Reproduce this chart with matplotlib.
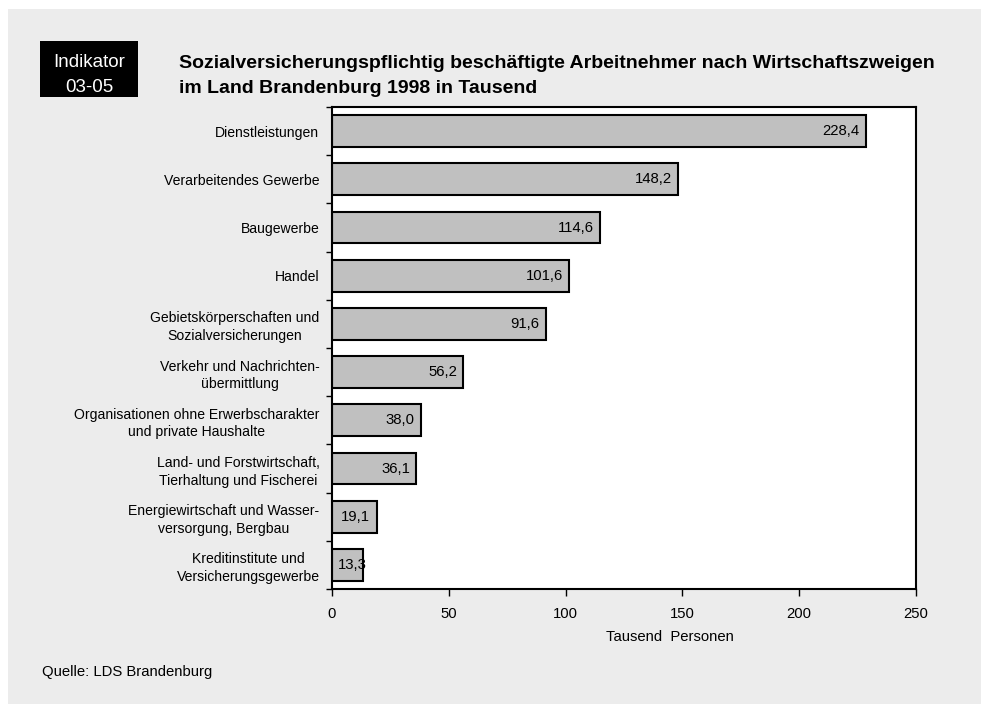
import matplotlib
matplotlib.use("Agg")
import matplotlib.pyplot as plt
from matplotlib.patches import Rectangle

plt.rcParams['font.family'] = ['Liberation Sans', 'DejaVu Sans']

# data, top to bottom as in the chart
branches = [
    "Dienstleistungen",
    "Verarbeitendes Gewerbe",
    "Baugewerbe",
    "Handel",
    "Gebietskörperschaften und\nSozialversicherungen",
    "Verkehr und Nachrichten-\nübermittlung",
    "Organisationen ohne Erwerbscharakter\nund private Haushalte",
    "Land- und Forstwirtschaft,\nTierhaltung und Fischerei",
    "Energiewirtschaft und Wasser-\nversorgung, Bergbau",
    "Kreditinstitute und\nVersicherungsgewerbe",
]
employees = [228.4, 148.2, 114.6, 101.6, 91.6, 56.2, 38.0, 36.1, 19.1, 13.3]
value_labels = ["228,4", "148,2", "114,6", "101,6", "91,6",
                "56,2", "38,0", "36,1", "19,1", "13,3"]
x_ticks = [0, 50, 100, 150, 200, 250]

W, H = 981, 704
fig = plt.figure(figsize=(W / 100, H / 100), dpi=100)
fig.patch.set_facecolor("white")

# grey panel behind everything
fig.patches.append(Rectangle((8 / W, 0), 1 - 8 / W, 1 - 9 / H,
                             transform=fig.transFigure, facecolor="#ececec",
                             edgecolor="none", zorder=-10))

ax = fig.add_axes([332 / W, 1 - 589 / H, (916 - 332) / W, (589 - 107) / H])
ax.set_facecolor("white")

n = len(branches)
ypos = list(range(n))
ax.barh(ypos, employees, height=0.66, color="#c0c0c0",
        edgecolor="black", linewidth=1.5, zorder=2)

ax.set_xlim(0, 250)
ax.set_ylim(n - 0.5, -0.5)
ax.set_xticks(x_ticks)
ax.set_xticklabels([str(t) for t in x_ticks], fontsize=10.7)

# category labels in the middle, ticks at the boundaries
ax.set_yticks(ypos)
ax.set_yticklabels(branches, fontsize=10.1, multialignment="center",
                   linespacing=1.32)
ax.tick_params(axis="y", which="major", length=0, pad=9)
ax.set_yticks([i - 0.5 for i in range(n + 1)], minor=True)
ax.tick_params(axis="y", which="minor", length=4, width=1, direction="out")
ax.tick_params(axis="x", length=5, width=1, direction="out", pad=8)

for s in ax.spines.values():
    s.set_linewidth(1.5)
    s.set_color("black")

# value labels inside the bar end; too short bars get it from the axis
for y, v, lab in zip(ypos, employees, value_labels):
    if v < 15:
        ax.annotate(lab, (0, y), xytext=(4.5, 0), textcoords="offset points",
                    ha="left", va="center", fontsize=10.7, zorder=3)
    else:
        ax.annotate(lab, (v, y), xytext=(-4.5, 0), textcoords="offset points",
                    ha="right", va="center", fontsize=10.7, zorder=3)

fig.text(670 / W, 1 - 637 / H, "Tausend  Personen", ha="center", va="center",
         fontsize=10.7)

# indicator box
fig.patches.append(Rectangle((40 / W, 1 - 97 / H), 98 / W, 56 / H,
                             transform=fig.transFigure, facecolor="black",
                             edgecolor="none", zorder=-5))
fig.text(89 / W, 1 - 67 / H, "Indikator", color="white", ha="center",
         va="baseline", fontsize=13.5)
fig.text(89 / W, 1 - 92 / H, "03-05", color="white", ha="center",
         va="baseline", fontsize=13.5)

fig.text(179 / W, 1 - 68 / H,
         "Sozialversicherungspflichtig beschäftigte Arbeitnehmer nach Wirtschaftszweigen",
         ha="left", va="baseline", fontsize=14, fontweight="bold")
fig.text(179 / W, 1 - 93 / H, "im Land Brandenburg 1998 in Tausend",
         ha="left", va="baseline", fontsize=14, fontweight="bold")

fig.text(42 / W, 1 - 672 / H, "Quelle: LDS Brandenburg", ha="left",
         va="center", fontsize=10.7)

fig.savefig("out.png", dpi=100, facecolor=fig.get_facecolor())
